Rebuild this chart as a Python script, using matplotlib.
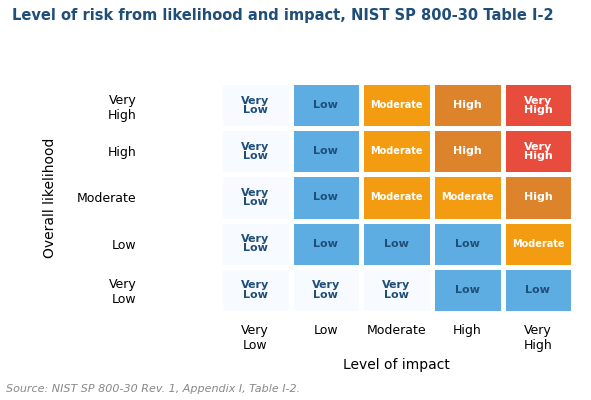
import numpy as np
import matplotlib.pyplot as plt
from matplotlib.colors import ListedColormap

# levels, from low to high
levels = ['Very Low', 'Low', 'Moderate', 'High', 'Very High']
impact = levels
likelihood = levels  # bottom to top

# risk matrix, rows = likelihood (Very Low .. Very High), cols = impact
risk = [
    ['Very Low', 'Very Low', 'Very Low', 'Low', 'Low'],
    ['Very Low', 'Low', 'Low', 'Low', 'Moderate'],
    ['Very Low', 'Low', 'Moderate', 'Moderate', 'High'],
    ['Very Low', 'Low', 'Moderate', 'High', 'Very High'],
    ['Very Low', 'Low', 'Moderate', 'High', 'Very High'],
]

COLORS = ['#f7fbff', '#5dade2', '#f39c12', '#dc832b', '#e74c3c']
TEXT = ['#1f4e79', '#1f4e79', 'white', 'white', 'white']
SIZE = {'Very Low': 8, 'Low': 8, 'Moderate': 7, 'High': 8, 'Very High': 8}

codes = np.array([[levels.index(v) for v in row] for row in risk])

fig = plt.figure(figsize=(5.91, 4.0), dpi=100)
ax = fig.add_axes([0.372, 0.2175, 0.598, 0.5775])
ax.pcolormesh(codes, cmap=ListedColormap(COLORS), vmin=-0.5, vmax=4.5,
              edgecolors='white', linewidth=2.5)

for r, row in enumerate(risk):
    for c, val in enumerate(row):
        k = levels.index(val)
        ax.text(c + 0.5, r + 0.5, val.replace(' ', '\n') if val != 'Moderate' else val,
                ha='center', va='center', color=TEXT[k], fontsize=SIZE[val],
                fontweight='bold', linespacing=0.9)

ax.set_xlim(0, 5)
ax.set_ylim(0, 5)
ax.set_xticks(np.arange(5) + 0.5)
ax.set_xticklabels([l.replace(' ', '\n') for l in impact], fontsize=9)
ax.set_yticks(np.arange(5) + 0.5)
ax.set_yticklabels([l.replace(' ', '\n') for l in likelihood], fontsize=9)
ax.tick_params(length=0)
ax.tick_params(axis='y', pad=60)
ax.tick_params(axis='x', pad=8)
for s in ax.spines.values():
    s.set_visible(False)
ax.set_xlabel('Level of impact', fontsize=10)
ax.set_ylabel('Overall likelihood', fontsize=10, labelpad=14)

fig.text(0.02, 0.962, 'Level of risk from likelihood and impact, NIST SP 800-30 Table I-2',
         fontsize=10.5, fontweight='bold', color='#1f4e79', va='center')
fig.text(0.01, 0.02, 'Source: NIST SP 800-30 Rev. 1, Appendix I, Table I-2.',
         fontsize=8, style='italic', color='#888888')

fig.savefig('out.png')
